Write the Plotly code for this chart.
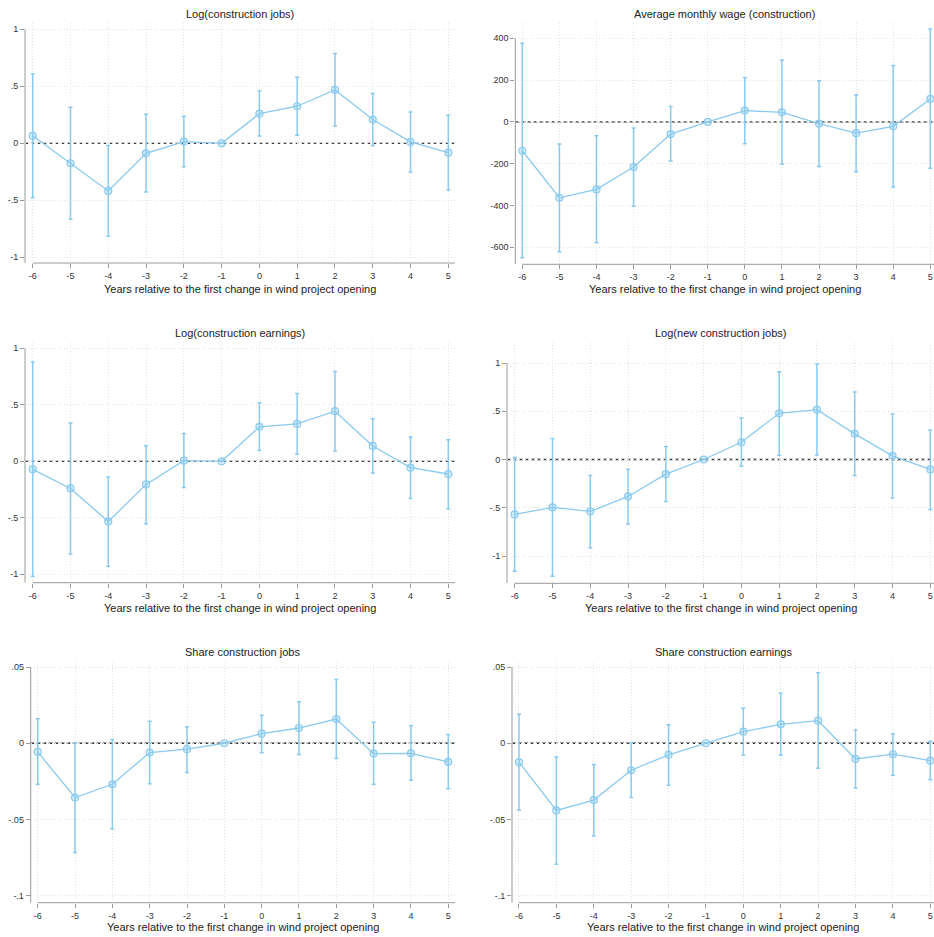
import plotly.graph_objects as go

# Event-study estimates: years relative to first wind project opening
years = [-6, -5, -4, -3, -2, -1, 0, 1, 2, 3, 4, 5]

jobs_coef = [0.067, -0.175, -0.418, -0.088, 0.015, 0, 0.26, 0.325, 0.468, 0.208, 0.012, -0.082]
jobs_lo = [-0.477, -0.667, -0.816, -0.427, -0.205, None, 0.064, 0.07, 0.152, -0.02, -0.251, -0.409]
jobs_hi = [0.608, 0.316, -0.02, 0.254, 0.237, None, 0.459, 0.579, 0.787, 0.436, 0.275, 0.246]

wage_coef = [-138, -363, -323, -216, -58, 0, 54, 46, -8, -54, -21, 110]
wage_lo = [-650, -621, -578, -403, -187, None, -104, -203, -213, -238, -312, -222]
wage_hi = [376, -106, -66, -29, 74, None, 213, 296, 197, 130, 270, 445]

earn_coef = [-0.071, -0.24, -0.533, -0.204, 0.006, 0, 0.305, 0.331, 0.444, 0.136, -0.056, -0.112]
earn_lo = [-1.02, -0.82, -0.929, -0.553, -0.231, None, 0.095, 0.062, 0.092, -0.104, -0.328, -0.42]
earn_hi = [0.879, 0.34, -0.139, 0.139, 0.246, None, 0.518, 0.6, 0.796, 0.376, 0.216, 0.192]

newjobs_coef = [-0.569, -0.497, -0.538, -0.383, -0.152, 0, 0.179, 0.479, 0.517, 0.266, 0.038, -0.103]
newjobs_lo = [-1.159, -1.21, -0.914, -0.669, -0.434, None, -0.069, 0.045, 0.048, -0.166, -0.4, -0.517]
newjobs_hi = [0.021, 0.217, -0.166, -0.1, 0.134, None, 0.431, 0.91, 0.993, 0.7, 0.472, 0.307]

sharejobs_coef = [-0.0057, -0.0356, -0.0269, -0.0061, -0.0039, 0, 0.0063, 0.0100, 0.0159, -0.0068, -0.0066, -0.0122]
sharejobs_lo = [-0.0269, -0.0716, -0.0561, -0.0266, -0.0192, None, -0.0063, -0.0074, -0.0100, -0.0269, -0.0242, -0.0299]
sharejobs_hi = [0.0160, 0.0002, 0.0024, 0.0144, 0.0109, None, 0.0183, 0.0273, 0.0419, 0.0138, 0.0116, 0.0057]

shareearn_coef = [-0.0124, -0.0441, -0.0373, -0.0177, -0.0076, 0, 0.0076, 0.0124, 0.0148, -0.0103, -0.0072, -0.0114]
shareearn_lo = [-0.0439, -0.0793, -0.0609, -0.0356, -0.0275, None, -0.0079, -0.0079, -0.0164, -0.0293, -0.0210, -0.0240]
shareearn_hi = [0.0190, -0.0090, -0.0140, 0.0002, 0.0122, None, 0.0229, 0.0328, 0.0463, 0.0087, 0.0063, 0.0013]

titles = ["Log(construction jobs)", "Average monthly wage (construction)",
          "Log(construction earnings)", "Log(new construction jobs)",
          "Share construction jobs", "Share construction earnings"]
x_title = "Years relative to the first change in wind project opening"

log_ticks = [-1, -0.5, 0, 0.5, 1]
log_text = ["-1", "-.5", "0", ".5", "1"]
wage_ticks = [-600, -400, -200, 0, 200, 400]
wage_text = ["-600", "-400", "-200", "0", "200", "400"]
share_ticks = [-0.1, -0.05, 0, 0.05]
share_text = ["-.1", "-.05", "0", ".05"]

series = [
    (jobs_coef, jobs_lo, jobs_hi, log_ticks, log_text),
    (wage_coef, wage_lo, wage_hi, wage_ticks, wage_text),
    (earn_coef, earn_lo, earn_hi, log_ticks, log_text),
    (newjobs_coef, newjobs_lo, newjobs_hi, log_ticks, log_text),
    (sharejobs_coef, sharejobs_lo, sharejobs_hi, share_ticks, share_text),
    (shareearn_coef, shareearn_lo, shareearn_hi, share_ticks, share_text),
]

W, H = 934, 937
# Plot regions in pixels: (left, right, top, bottom), and axis ranges
regions = [
    (25, 455, 23, 263), (515.3, 934, 23, 264.3),
    (25, 455, 342, 582.7), (507, 934, 342, 583.3),
    (30.7, 455, 662, 902.7), (512, 934, 662, 902.7),
]
xranges = [[-6.204, 5.177], [-6.189, 5.10], [-6.204, 5.177],
           [-6.204, 5.098], [-6.1875, 5.18], [-6.187, 5.099]]
yranges = [[-1.050, 1.055], [-681.3, 473.2], [-1.074, 1.056],
           [-1.283, 1.218], [-0.1046, 0.0533], [-0.1046, 0.0533]]
title_y = [14, 14, 333, 333, 652, 652]
xtitle_y = [289, 289, 608, 608, 927, 927]

blue = "rgb(138,202,238)"
blue_fill = "rgba(138,202,238,0.35)"
axis_gray = "#9a9a9a"
grid_gray = "#e2e2e2"
font_family = "Liberation Sans, Arial, sans-serif"

fig = go.Figure()
layout = {}
shapes = []
annotations = []

for i, ((coef, lo, hi, tv, tt), (l, r, t, b)) in enumerate(zip(series, regions)):
    n = i + 1
    xa = "x" if n == 1 else f"x{n}"
    ya = "y" if n == 1 else f"y{n}"
    err_plus = [None if h is None else h - c for c, h in zip(coef, hi)]
    err_minus = [None if v is None else c - v for c, v in zip(coef, lo)]

    fig.add_trace(go.Scatter(
        x=years, y=coef, xaxis=xa, yaxis=ya, mode="lines+markers",
        line=dict(color=blue, width=1.3),
        marker=dict(symbol="circle", size=7, color=blue_fill,
                    line=dict(color=blue, width=1.2)),
        error_y=dict(type="data", array=err_plus, arrayminus=err_minus,
                     color=blue, thickness=1.5, width=2),
        showlegend=False, hoverinfo="x+y",
    ))

    common = dict(
        ticks="outside", ticklen=4, tickcolor=axis_gray, tickwidth=1,
        showline=False, zeroline=False,
        showgrid=True, gridcolor=grid_gray, griddash="1px,2px", gridwidth=1,
        tickfont=dict(size=9, color="#333333", family=font_family),
        fixedrange=True,
    )
    layout[f"xaxis{'' if n == 1 else n}"] = dict(
        domain=[l / W, r / W], anchor=ya, range=xranges[i],
        tickvals=years, ticktext=[str(v) for v in years], **common,
    )
    layout[f"yaxis{'' if n == 1 else n}"] = dict(
        domain=[1 - b / H, 1 - t / H], anchor=xa, range=yranges[i],
        tickvals=tv, ticktext=tt, **common,
    )

    # Axis lines: y-axis from the bottom of the region up to the top tick,
    # x-axis from the first year out to the right edge of the region
    shapes.append(dict(type="line", xref=f"{xa} domain", yref=ya,
                       x0=0, x1=0, y0=yranges[i][0], y1=max(tv),
                       line=dict(color=axis_gray, width=1)))
    shapes.append(dict(type="line", xref=xa, yref=f"{ya} domain",
                       x0=years[0], x1=xranges[i][1], y0=0, y1=0,
                       line=dict(color=axis_gray, width=1)))
    # Reference line at zero
    shapes.append(dict(type="line", xref=f"{xa} domain", yref=ya,
                       x0=0, x1=1, y0=0, y1=0, layer="below",
                       line=dict(color="#3a3a3a", width=1.3, dash="4px,2px")))

    cx = (l + r) / 2 / W
    annotations.append(dict(text=titles[i], x=cx, y=1 - title_y[i] / H,
                            xref="paper", yref="paper", showarrow=False,
                            xanchor="center", yanchor="middle",
                            font=dict(size=11, color="#222222", family=font_family)))
    annotations.append(dict(text=x_title, x=cx, y=1 - xtitle_y[i] / H,
                            xref="paper", yref="paper", showarrow=False,
                            xanchor="center", yanchor="middle",
                            font=dict(size=11, color="#222222", family=font_family)))

fig.update_layout(
    width=W, height=H, margin=dict(l=0, r=0, t=0, b=0),
    paper_bgcolor="white", plot_bgcolor="white",
    shapes=shapes, annotations=annotations,
    font=dict(family=font_family),
    **layout,
)

fig.write_html("out.html", config={"displayModeBar": False})
